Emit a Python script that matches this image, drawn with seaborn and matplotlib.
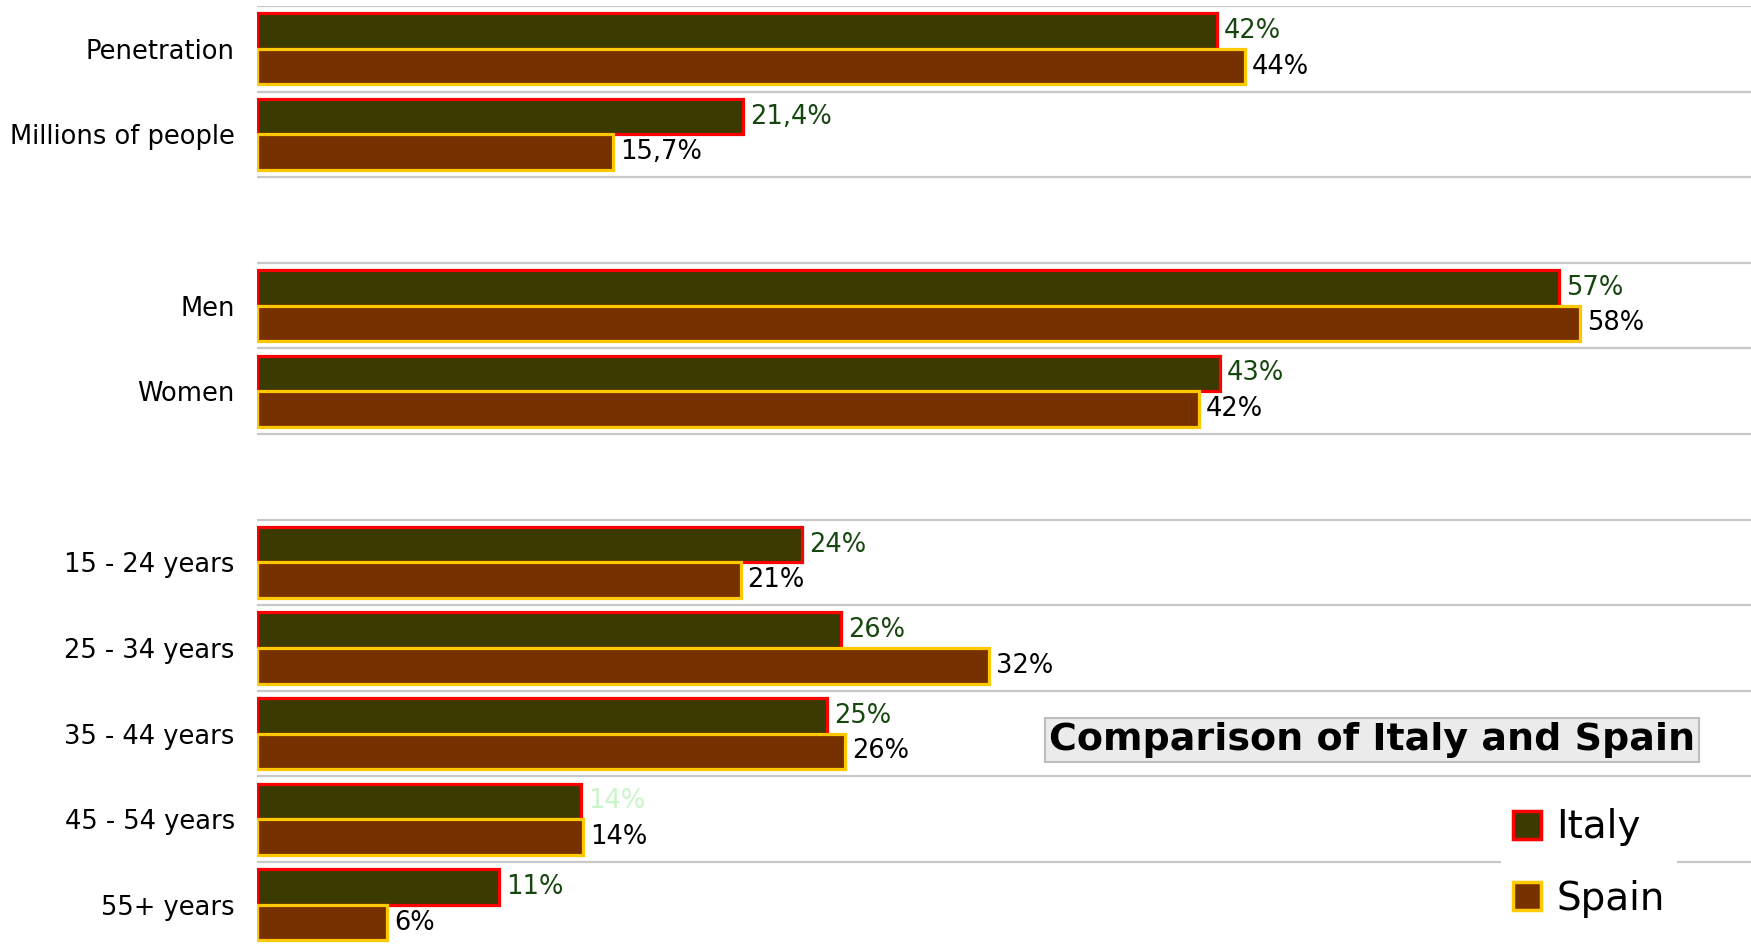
import matplotlib
matplotlib.use("Agg")
import matplotlib.pyplot as plt
import seaborn as sns
import pandas as pd
import numpy as np
from matplotlib.patches import Patch

# ---------------- data ----------------
categories = ["Penetration", "Millions of people", "Men", "Women",
              "15 - 24 years", "25 - 34 years", "35 - 44 years",
              "45 - 54 years", "55+ years"]
# row order including two empty spacer rows
row_order = ["Penetration", "Millions of people", " ", "Men", "Women", "  ",
             "15 - 24 years", "25 - 34 years", "35 - 44 years",
             "45 - 54 years", "55+ years"]
series = ["Italy", "Spain"]
italy = [42.1, 21.3, 57.1, 42.2, 23.9, 25.6, 25.0, 14.2, 10.6]
spain = [43.3, 15.6, 58.0, 41.3, 21.2, 32.1, 25.8, 14.3, 5.7]
italy_labels = ["42%", "21,4%", "57%", "43%", "24%", "26%", "25%", "14%", "11%"]
spain_labels = ["44%", "15,7%", "58%", "42%", "21%", "32%", "26%", "14%", "6%"]
title = "Comparison of Italy and Spain"

# ---------------- styles ----------------
fill_colors = ["#3b3a00", "#773100"]
edge_colors = ["#ff0000", "#ffc800"]
label_colors = ["#16470f", "#000000"]

sns.set_style("white")
plt.rcParams["font.family"] = ["DejaVu Sans"]
plt.rcParams["text.color"] = "black"
plt.rcParams["ytick.color"] = "black"
plt.rcParams["ytick.labelcolor"] = "black"

df = pd.DataFrame({
    "category": categories * 2,
    "country": [series[0]] * len(categories) + [series[1]] * len(categories),
    "value": italy + spain,
})
label_map = {series[0]: dict(zip(categories, italy_labels)),
             series[1]: dict(zip(categories, spain_labels))}

W, H = 1751, 944
fig = plt.figure(figsize=(W / 100, H / 100), dpi=100)
row_h = 85.6
top_px = 6
ax = fig.add_axes([257 / W, 1 - (top_px + 11 * row_h) / H, (W - 257) / W, 11 * row_h / H])

sns.barplot(data=df, y="category", x="value", hue="country", order=row_order,
            hue_order=series, palette=fill_colors, saturation=1, width=0.83,
            orient="h", errorbar=None, legend=False, ax=ax)

ax.set_ylim(10.5, -0.5)
ax.set_xlim(0, 65.5)

for cont, ser, ec, lc in zip(ax.containers, series, edge_colors, label_colors):
    labs = []
    for p in cont:
        p.set_edgecolor(ec)
        p.set_linewidth(2.3)
        idx = int(round(p.get_y() + p.get_height() / 2))
        labs.append(label_map[ser].get(row_order[idx], ""))
    texts = ax.bar_label(cont, labels=labs, padding=5, fontsize=18.5, color=lc)
    if ser == "Italy":
        for t in texts:
            if t.get_text() == "14%":
                t.set_color("#c9f5c9")

ax.set_yticks(range(len(row_order)))
ax.set_yticklabels([c.strip() for c in row_order], fontsize=18.5, color="black")
ax.set_yticks(np.arange(-0.5, len(row_order), 1), minor=True)
ax.tick_params(axis="y", which="both", length=0, pad=16)
ax.grid(False)
ax.grid(which="minor", axis="y", color="#c8c8c8", lw=1.6)
ax.set_axisbelow(True)
ax.set_xticks([])
ax.set_xlabel("")
ax.set_ylabel("")
for s in ax.spines.values():
    s.set_visible(False)

fig.text(1372 / W, 1 - 740 / H, title, fontsize=27.4, fontweight="bold",
         color="black", ha="center", va="center",
         bbox=dict(boxstyle="square,pad=0.1", fc="#ebebeb", ec="#bdbdbd", lw=1.5))

handles = [Patch(facecolor=f, edgecolor=e, linewidth=2.5, label=s)
           for f, e, s in zip(fill_colors, edge_colors, series)]
fig.legend(handles=handles, loc="center", bbox_to_anchor=(1589 / W, 1 - 863 / H),
           fontsize=28, frameon=True, framealpha=1, facecolor="white",
           edgecolor="none", fancybox=False, handlelength=0.72, handleheight=0.72,
           handletextpad=0.4, labelspacing=0.85, borderpad=0.3, labelcolor="black")

fig.savefig("out.png", dpi=100)
